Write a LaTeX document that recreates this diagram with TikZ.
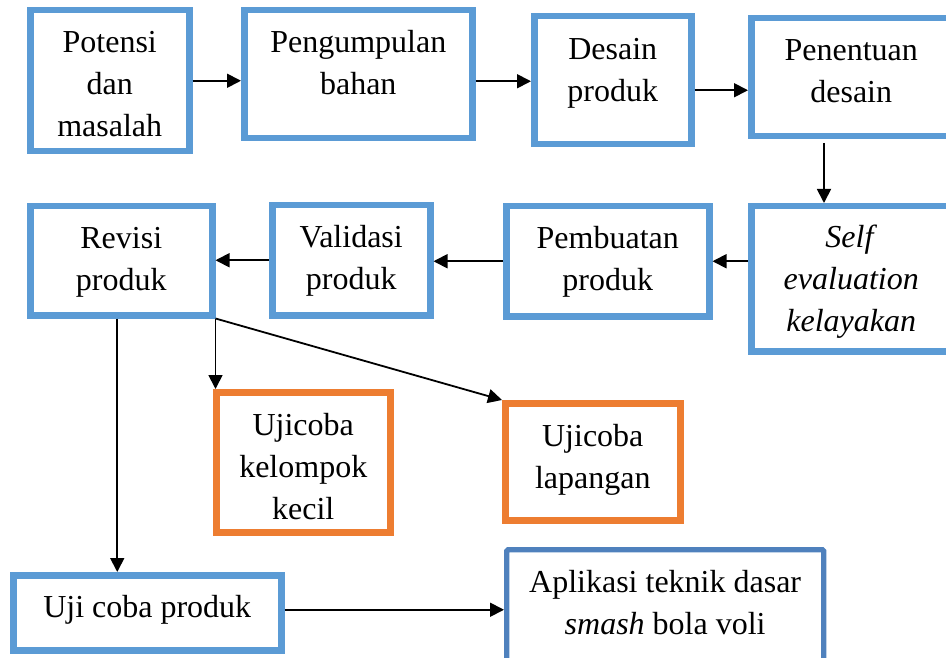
\documentclass[tikz,border=0pt]{standalone}
\usepackage{fontspec}
\setmainfont{Liberation Serif}
\usetikzlibrary{arrows.meta}
\definecolor{boxblue}{HTML}{5B9BD5}
\definecolor{boxorange}{HTML}{ED7D31}
\definecolor{endblue}{HTML}{4F81BD}

\begin{document}
\begin{tikzpicture}[x=1pt,y=-1pt,
                    font=\fontsize{32}{42}\selectfont,
                    stage/.style={rectangle,draw=boxblue,line width=6.5pt,inner sep=0pt,outer sep=auto,anchor=north west,align=flush center},
                    trial/.style={stage,draw=boxorange},
                    goal/.style={stage,draw=endblue,line width=5.3pt,rounded corners=1.5pt},
                    arr/.style={line width=1.8pt,-{Triangle[length=14pt,width=14pt]}}
                ]
                    \useasboundingbox (0,0) rectangle (946,658);

                    % first row
                    \node[stage,text width=159pt,text height=42pt,text depth=99pt] (pot) at (27,7) {Potensi\\dan\\masalah};
                    \node[stage,text width=228pt,text height=42pt,text depth=86pt] (pen) at (241,7) {Pengumpulan\\bahan};
                    \node[stage,text width=157pt,text height=43pt,text depth=85pt] (des) at (531,13) {Desain\\produk};
                    \node[stage,text width=200pt,text height=42pt,text depth=76pt] (ten) at (748,15) {Penentuan\\desain};

                    % second row
                    \node[stage,text width=200pt,text height=41pt,text depth=104pt] (self) at (748,203) {\textit{Self}\\\textit{evaluation}\\\textit{kelayakan}};
                    \node[stage,text width=203pt,text height=42pt,text depth=68pt] (pem) at (503,203) {Pembuatan\\produk};
                    \node[stage,text width=158pt,text height=42pt,text depth=68pt] (val) at (269,202) {Validasi\\produk};
                    \node[stage,text width=182pt,text height=42pt,text depth=67pt] (rev) at (27,203) {Revisi\\produk};

                    % trials
                    \node[trial,text width=174pt,text height=43pt,text depth=97pt] (kec) at (213,389) {Ujicoba\\kelompok\\kecil};
                    \node[trial,text width=175pt,text height=43pt,text depth=74pt] (lap) at (502,400) {Ujicoba\\lapangan};

                    % last row
                    \node[stage,text width=268pt,text height=42pt,text depth=33pt] (uji) at (10,572) {Uji coba produk};
                    \node[goal,text width=317pt,text height=42.4pt,text depth=88pt] (apl) at (504,547) {Aplikasi teknik dasar\\\textit{smash} bola voli};

                    \coordinate (t1) at (824,143);

                    \draw[arr] (pot.east) -- (pot.east -| pen.west);
                    \draw[arr] ([yshift=-1pt]des.west -| pen.east) -- ([yshift=-1pt]des.west);
                    \draw[arr] ([yshift=-10pt]des.east) -- ([yshift=-10pt]des.east -| ten.west);
                    \draw[arr] (t1) -- (t1 |- self.north);
                    \draw[arr] (self.west |- pem.east) -- (pem.east);
                    \draw[arr] (pem.west) -- (pem.west -| val.east);
                    \draw[arr] (val.west) -- (val.west -| rev.east);
                    \draw[arr] ([xshift=-4pt]rev.south) -- ([xshift=-4pt]rev.south |- uji.north);
                    \draw[arr] (rev.south east) -- (rev.south east |- kec.north);
                    \draw[arr] (rev.south east) -- (lap.north west);
                    \draw[arr] ([yshift=3pt]uji.east) -- ([yshift=3pt]uji.east -| apl.west);

                \end{tikzpicture}
\end{document}
